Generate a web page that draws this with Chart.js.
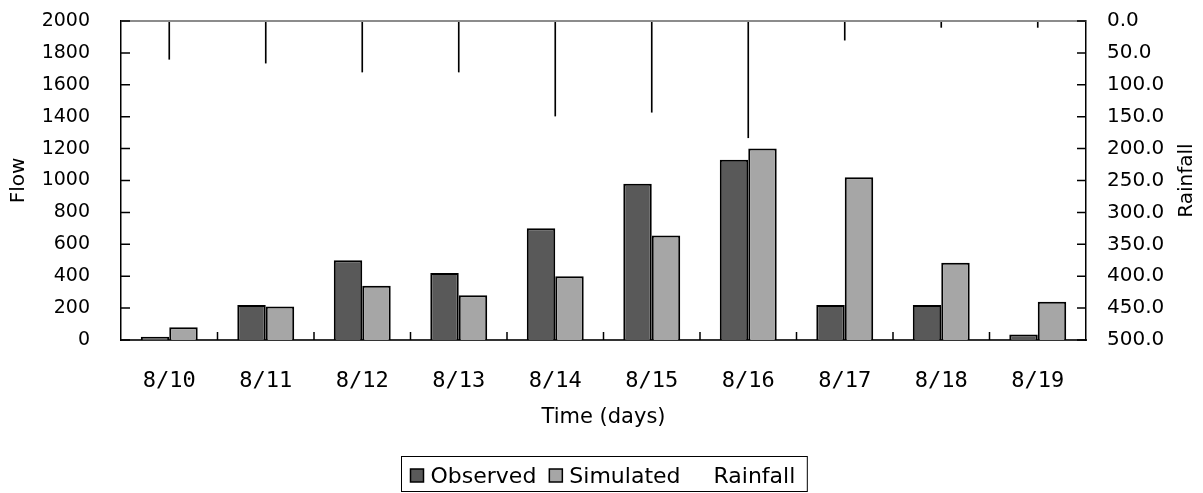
<!DOCTYPE html>
<html>
<head>
<meta charset="utf-8">
<script src="https://cdn.jsdelivr.net/npm/chart.js@4.4.1/dist/chart.umd.min.js"></script>
<style>
  html, body { margin: 0; padding: 0; background: #fff; }
  canvas { display: block; }
</style>
</head>
<body>
<canvas id="flowChart" width="1203" height="493"></canvas>
<script>
// ── Data ──
const days = ["8/10", "8/11", "8/12", "8/13", "8/14", "8/15", "8/16", "8/17", "8/18", "8/19"];
const observedFlow = [20, 220, 500, 420, 700, 980, 1130, 220, 220, 35];
const simulatedFlow = [80, 210, 340, 280, 400, 655, 1200, 1020, 485, 240];
const rainfall = [60, 66, 80, 80, 149, 143, 183, 30, 10, 10];

// ── Styling ──
const DARK = "#595959", LIGHT = "#a6a6a6", INK = "#000000";
const SANS = "'DejaVu Sans', sans-serif";
const MONO = "'DejaVu Sans Mono', monospace";

// keep the plot box fixed, ignoring label overhang
function fixPadding(s) {
  s.paddingTop = 0;
  s.paddingBottom = 0;
  s.paddingLeft = 0;
  s.paddingRight = 0;
}

// inward tick marks, frame top, axis titles and boxed legend
const chartFrame = {
  id: "chartFrame",
  afterDraw(chart) {
    const { ctx, chartArea: area, scales } = chart;
    const { x, y, y2 } = scales;
    ctx.save();

    // top edge of plot area
    ctx.strokeStyle = "#8c8c8c";
    ctx.lineWidth = 2;
    ctx.beginPath();
    ctx.moveTo(area.left, area.top);
    ctx.lineTo(area.right, area.top);
    ctx.stroke();

    ctx.strokeStyle = INK;
    ctx.lineWidth = 1.5;
    ctx.beginPath();
    y.ticks.forEach((t) => {
      const py = y.getPixelForValue(t.value);
      ctx.moveTo(area.left, py);
      ctx.lineTo(area.left + 9, py);
    });
    y2.ticks.forEach((t) => {
      const py = y2.getPixelForValue(t.value);
      ctx.moveTo(area.right, py);
      ctx.lineTo(area.right - 9, py);
    });
    for (let i = 1; i < days.length; i++) {
      const px = (x.getPixelForValue(i - 1) + x.getPixelForValue(i)) / 2;
      ctx.moveTo(px, area.bottom);
      ctx.lineTo(px, area.bottom - 8);
    }
    ctx.stroke();

    // axis titles
    ctx.fillStyle = INK;
    ctx.font = `20px ${SANS}`;
    ctx.textAlign = "center";
    ctx.textBaseline = "middle";
    const midY = (area.top + area.bottom) / 2;
    [["Flow", 19], ["Rainfall", 1187]].forEach(([text, tx]) => {
      ctx.save();
      ctx.translate(tx, midY);
      ctx.rotate(-Math.PI / 2);
      ctx.fillText(text, 0, 0);
      ctx.restore();
    });
    ctx.font = `21px ${SANS}`;
    ctx.fillText("Time (days)", (area.left + area.right) / 2, 418);

    // legend
    ctx.font = `22px ${SANS}`;
    const sw = 13, gapText = 7, gapItem = 13;
    const items = chart.data.datasets.map((ds) => ({
      label: ds.label,
      fill: ds.legendSwatch === false ? null : ds.backgroundColor,
      w: sw + gapText + ctx.measureText(ds.label).width
    }));
    const total = items.reduce((s, it) => s + it.w, 0) + gapItem * (items.length - 1);
    const padL = 9, padR = 12;
    const boxW = total + padL + padR;
    const boxLeft = Math.round((area.left + area.right) / 2 - boxW / 2) + 0.5;
    const boxTop = 456.5, boxH = 35;
    ctx.strokeStyle = INK;
    ctx.lineWidth = 1;
    ctx.strokeRect(boxLeft, boxTop, boxW, boxH);
    let cx = boxLeft + padL;
    const textY = 477;
    ctx.textAlign = "left";
    items.forEach((it) => {
      if (it.fill) {
        ctx.fillStyle = it.fill;
        ctx.fillRect(cx, 469, sw, sw);
        ctx.lineWidth = 1.5;
        ctx.strokeRect(cx, 469, sw, sw);
      }
      ctx.fillStyle = INK;
      ctx.fillText(it.label, cx + sw + gapText, textY);
      cx += it.w + gapItem;
    });
    ctx.restore();
  }
};

new Chart(document.getElementById("flowChart"), {
  type: "bar",
  data: {
    labels: days,
    datasets: [
      {
        label: "Observed",
        data: observedFlow,
        yAxisID: "y",
        backgroundColor: DARK,
        borderColor: INK,
        borderWidth: 2
      },
      {
        label: "Simulated",
        data: simulatedFlow,
        yAxisID: "y",
        backgroundColor: LIGHT,
        borderColor: INK,
        borderWidth: 2
      },
      {
        label: "Rainfall",
        data: rainfall,
        yAxisID: "y2",
        backgroundColor: INK,
        borderWidth: 0,
        barThickness: 1,
        grouped: false,
        legendSwatch: false
      }
    ]
  },
  options: {
    responsive: false,
    animation: false,
    devicePixelRatio: 1,
    categoryPercentage: 0.59,
    barPercentage: 1,
    layout: { padding: { top: 21, left: 0, right: 0, bottom: 0 } },
    plugins: {
      legend: { display: false },
      tooltip: { enabled: false }
    },
    scales: {
      x: {
        grid: { display: false, drawTicks: false },
        border: { color: "#333333", width: 2 },
        ticks: { color: INK, font: { family: MONO, size: 22 }, padding: 28 },
        afterFit: (s) => { fixPadding(s); s.height = 153; }
      },
      y: {
        position: "left",
        min: 0,
        max: 2000,
        grid: { display: false, drawTicks: false },
        border: { color: INK, width: 1.5 },
        ticks: {
          stepSize: 200,
          color: INK,
          font: { family: SANS, size: 19 },
          padding: 31,
          callback: (v) => String(v)
        },
        afterFit: (s) => { fixPadding(s); s.width = 121; }
      },
      y2: {
        position: "right",
        reverse: true,
        min: 0,
        max: 500,
        grid: { display: false, drawTicks: false },
        border: { color: INK, width: 1.5 },
        ticks: {
          stepSize: 50,
          color: INK,
          font: { family: SANS, size: 20 },
          padding: 21,
          callback: (v) => Number(v).toFixed(1)
        },
        afterFit: (s) => { fixPadding(s); s.width = 117; }
      }
    }
  },
  plugins: [chartFrame]
});
</script>
</body>
</html>
